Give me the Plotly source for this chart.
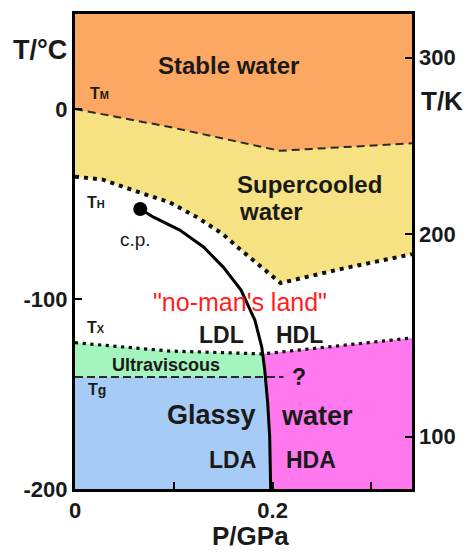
import numpy as np
import plotly.graph_objects as go

# ---------------- data (P in GPa, T in °C) ----------------
P_RANGE = [0.0, 0.341]
T_RANGE = [-200.0, 50.0]

# melting line T_M
tm_P = [0.0, 0.096, 0.207, 0.341]
tm_T = [0.0, -9.5, -22.0, -18.0]

# homogeneous nucleation line T_H
th_P = [0.0, 0.028, 0.063, 0.096, 0.124, 0.150, 0.167, 0.187, 0.208, 0.268, 0.341]
th_T = [-35.6, -37.2, -43.5, -49.2, -57.1, -66.0, -73.8, -82.7, -91.6, -84.3, -76.4]

# LDL/HDL coexistence line from the critical point
cp_P = [0.066, 0.079, 0.106, 0.130, 0.150, 0.168, 0.182, 0.189, 0.192, 0.195, 0.197, 0.198]
cp_T = [-52.6, -56.8, -63.7, -72.6, -83.2, -95.3, -111.1, -125.3, -137.4, -154.7, -172.6, -200.0]

# crystallization line T_X
tx_P = [0.0, 0.096, 0.190, 0.256, 0.341]
tx_T = [-123.0, -127.4, -128.9, -125.3, -120.5]

# glass transition T_g
tg_P = [0.0, 0.211]
tg_T = [-141.0, -141.0]

# right axis (Kelvin) labels and their place on the °C scale as drawn
k_labels = ["300", "200", "100"]
k_pos_C = [27.0, -66.0, -172.5]

FONT = "Liberation Sans, Arial, Helvetica, sans-serif"
C_ORANGE = "#FDA862"
C_YELLOW = "#F6E283"
C_GREEN = "#A4F4BE"
C_BLUE = "#A6CBF6"
C_MAGENTA = "#FF78EE"
C_TXT = "#1a1a1a"


def crossing(cP, cT, fP, fT):
    """First crossing of curve (cP,cT) going downward through f(P)."""
    g = np.array(cT) - np.interp(cP, fP, fT)
    for i in range(len(g) - 1):
        if g[i] >= 0 and g[i + 1] < 0:
            a = g[i] / (g[i] - g[i + 1])
            return (cP[i] + a * (cP[i + 1] - cP[i]), cT[i] + a * (cT[i + 1] - cT[i]), i)
    raise ValueError


xP_tx, xT_tx, i_tx = crossing(cp_P, cp_T, tx_P, tx_T)
xP_tg, xT_tg, i_tg = crossing(cp_P, cp_T, tg_P, tg_T)

P0, P1 = P_RANGE
T0, T1 = T_RANGE

fig = go.Figure()


def poly(px, py, color):
    fig.add_trace(go.Scatter(x=px, y=py, mode="lines", fill="toself", fillcolor=color,
                             line=dict(width=0, color=color), hoverinfo="skip",
                             showlegend=False))


# orange: whole plot
poly([P0, P1, P1, P0], [T1, T1, T0, T0], C_ORANGE)
# yellow: below T_M
poly(tm_P + [P1, P0], tm_T + [T0, T0], C_YELLOW)
# white: below T_H
poly(th_P + [P1, P0], th_T + [T0, T0], "white")
# green: below T_X
poly(tx_P + [P1, P0], tx_T + [T0, T0], C_GREEN)
# blue: below T_g, left of coexistence line
bP = [tg_P[0], xP_tg] + cp_P[i_tg + 1:] + [P0]
bT = [tg_T[0], xT_tg] + cp_T[i_tg + 1:] + [T0]
poly(bP, bT, C_BLUE)
# magenta: below T_X, right of coexistence line
right_tx = [(p, t) for p, t in zip(tx_P, tx_T) if p > xP_tx][::-1]
mP = [xP_tx] + cp_P[i_tx + 1:] + [P1] + [p for p, _ in right_tx]
mT = [xT_tx] + cp_T[i_tx + 1:] + [T0] + [t for _, t in right_tx]
poly(mP, mT, C_MAGENTA)


def line(px, py, width, dash, color="#111111"):
    fig.add_trace(go.Scatter(x=px, y=py, mode="lines", line=dict(width=width, dash=dash, color=color),
                             hoverinfo="skip", showlegend=False))


line(tm_P, tm_T, 2, "8px,5px", "#2a2a2a")
line(tg_P, tg_T, 2, "8px,4px", "#2a2a2a")
line(th_P, th_T, 4, "4px,5px")
line(tx_P, tx_T, 3.2, "3.2px,4.5px")
line(cp_P, cp_T, 3, "solid", "black")
fig.add_trace(go.Scatter(x=[cp_P[0]], y=[cp_T[0]], mode="markers",
                         marker=dict(size=14, color="black"), hoverinfo="skip", showlegend=False))

# plot area in pixels: x 75..412, y 14..489
def label(text, x, y, size, bold=True, color=C_TXT, xanchor="center"):
    fig.add_annotation(x=(x - 75) / 337.0, y=(489 - y) / 475.0, xref="paper", yref="paper",
                       text=text, showarrow=False, xanchor=xanchor, yanchor="middle",
                       font=dict(family=FONT, size=size, color=color,
                                 weight="bold" if bold else "normal"))


sub = lambda s, n=11: f"T<span style='font-size:{n}px'>{s}</span>"

label("Stable water", 228, 66, 24)
label("Supercooled", 235, 184, 24, xanchor="left")
label("water", 237, 211, 24, xanchor="left")
label(sub("M"), 99, 94, 16)
label(sub("H"), 96, 202, 16)
label(sub("X"), 96, 327, 16)
label(sub("g", 14), 97, 389, 16)
label("c.p.", 135, 239, 19, bold=False)
label('"no-man\'s land"', 240, 302, 25, bold=False, color="#FF1E1E")
label("LDL", 221, 335, 23)
label("HDL", 299, 335, 23)
label("Ultraviscous", 166, 365, 18)
label("?", 299, 377, 23)
label("Glassy", 211, 415, 27)
label("water", 317, 416, 27)
label("LDA", 232, 460, 23)
label("HDA", 311, 460, 23)
label("T/°C", 40, 50, 27)
label("T/K", 442, 101, 26)
label("P/GPa", 250, 536, 26)

tickfont = dict(family=FONT, size=22, color=C_TXT, weight="bold")
axis_common = dict(showgrid=False, zeroline=False, ticks="inside", ticklen=7, tickwidth=2,
                   tickcolor="black", tickfont=tickfont)

fig.update_layout(
    width=468, height=553,
    margin=dict(l=75, r=56, t=14, b=64),
    paper_bgcolor="white", plot_bgcolor="white",
    showlegend=False,
    xaxis=dict(range=P_RANGE, tickvals=[0, 0.1, 0.2, 0.3], ticktext=["0", "", "0.2", ""],
               showline=True, mirror=True, linecolor="black", linewidth=3, **axis_common),
    yaxis=dict(range=T_RANGE, tickvals=[0, -100, -200], ticktext=["0", "-100", "-200"],
               showline=True, mirror=True, linecolor="black", linewidth=3, **axis_common),
    yaxis2=dict(range=T_RANGE, overlaying="y", side="right", tickvals=k_pos_C, ticktext=k_labels,
                showline=False, ticklabelstandoff=6, **axis_common),
)
fig.add_trace(go.Scatter(x=[None], y=[None], yaxis="y2", showlegend=False))

fig.write_html("out.html")
